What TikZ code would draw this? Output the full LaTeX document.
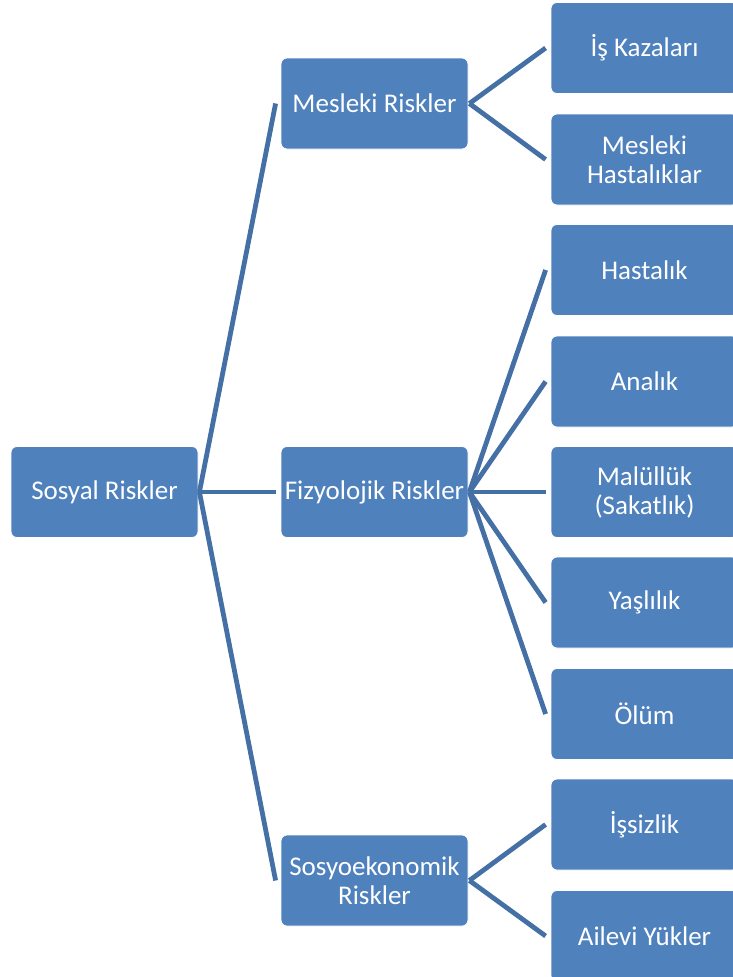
\documentclass[tikz,border=0pt]{standalone}
\usepackage{fontspec}
\setmainfont{Carlito}
\definecolor{boxblue}{RGB}{79,129,189}
\definecolor{lineblue}{RGB}{68,112,166}
\tikzset{
  riskbox/.style={rectangle, rounded corners=6pt, fill=boxblue, draw=white, line width=0.8pt,
    minimum width=187pt, minimum height=91pt, inner sep=0pt, align=center, text=white,
    font=\fontsize{27}{29}\selectfont},
  conn/.style={draw=lineblue, line width=4.8pt}
}
\begin{document}
\begin{tikzpicture}[x=1pt,y=-1pt]
\useasboundingbox (0,0) rectangle (733,977);
\clip (0,0) rectangle (733,977);
\node[riskbox] (SR) at (104.5,492) {Sosyal Riskler};
\node[riskbox] (MR) at (374.5,103.5) {Mesleki Riskler};
\node[riskbox] (FR) at (374.5,492) {Fizyolojik Riskler};
\node[riskbox] (SE) at (374.5,880.5) {Sosyoekonomik\\Riskler};
\node[riskbox] (IK) at (644.5,48) {İş Kazaları};
\node[riskbox] (MH) at (644.5,159.5) {Mesleki\\Hastalıklar};
\node[riskbox] (HA) at (644.5,270) {Hastalık};
\node[riskbox] (AN) at (644.5,381.5) {Analık};
\node[riskbox] (MA) at (644.5,492) {Malüllük\\(Sakatlık)};
\node[riskbox] (YA) at (644.5,602.5) {Yaşlılık};
\node[riskbox] (OL) at (644.5,714) {Ölüm};
\node[riskbox] (IS) at (644.5,824.5) {İşsizlik};
\node[riskbox] (AY) at (644.5,936) {Ailevi Yükler};
\foreach \p/\c in {SR/MR,SR/FR,SR/SE,MR/IK,MR/MH,FR/HA,FR/AN,FR/MA,FR/YA,FR/OL,SE/IS,SE/AY}
  \draw[conn] ([xshift=1pt]\p.east) -- ([xshift=-5pt]\c.west);
\end{tikzpicture}
\end{document}
